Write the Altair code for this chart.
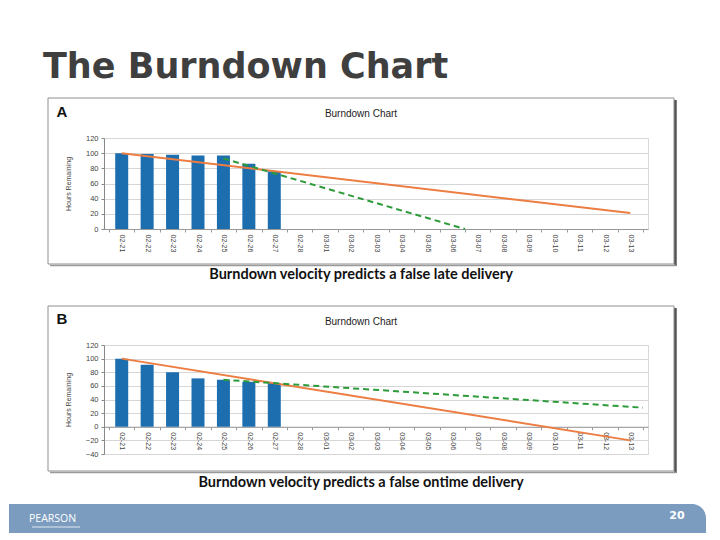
import altair as alt
import pandas as pd

# ---------------- data ----------------
dates = ["02-21", "02-22", "02-23", "02-24", "02-25", "02-26", "02-27",
         "02-28", "03-01", "03-02", "03-03", "03-04", "03-05", "03-06",
         "03-07", "03-08", "03-09", "03-10", "03-11", "03-12", "03-13"]

bar_days = [0, 1, 2, 3, 4, 5, 6]
a_hours = [100, 99, 98, 97, 97, 86, 76]
b_hours = [100, 91, 80, 71, 69, 66, 64]

a_ideal_days = [0, 20]
a_ideal_hours = [100, 21]
a_trend_days = [4, 13.5]
a_trend_hours = [93, 0]

b_ideal_days = [0, 20]
b_ideal_hours = [100, -20]
b_trend_days = [4, 20.5]
b_trend_hours = [69, 28]

slide_title = "The Burndown Chart"
chart_title = "Burndown  Chart"
caption_a = "Burndown velocity predicts a false late delivery"
caption_b = "Burndown velocity predicts a false ontime delivery"

# ---------------- styles ----------------
W = 544
HA = 91
HB = 109
BAND = W / len(dates)
BLUE = "#1c6eaf"
ORANGE = "#ec7d43"
GREEN = "#2e9b3a"
AXIS_FONT = "Liberation Sans"

one = pd.DataFrame({"k": [0]})

label_array = "[" + ",".join("'%s'" % d for d in dates) + "]"
label_expr = label_array + "[round(datum.value + 0.5)] || ''"
boundaries = [i - 0.5 for i in range(len(dates) + 1)]


def x_enc(offset):
    return alt.X(
        "day:Q",
        scale=alt.Scale(domain=[-0.5, len(dates) - 0.5], nice=False, zero=False),
        axis=alt.Axis(
            values=boundaries, labelExpr=label_expr, labelAngle=90,
            labelOffset=BAND / 2, labelFlush=False, labelOverlap=False,
            labelBound=False, labelFontSize=7, labelColor="#444",
            labelFont=AXIS_FONT, labelPadding=2, tickSize=3,
            tickColor="#999", domainColor="#999", grid=False, title=None,
            offset=offset,
        ),
    )


def y_enc(domain, values):
    return alt.Y(
        "hours:Q",
        scale=alt.Scale(domain=domain, nice=False, zero=False),
        axis=alt.Axis(
            values=values, labelFontSize=7.5, labelColor="#444",
            labelFont=AXIS_FONT, tickSize=3, tickColor="#888",
            domainColor="#888", gridColor="#d6d6d6", title="Hours Remaining",
            titleFontSize=7, titleFontWeight="normal", titleColor="#444",
            titleFont=AXIS_FONT, titlePadding=14, labelPadding=3,
        ),
    )


def text(t, x, y, size, color="#333", weight="normal", font=AXIS_FONT,
         align="center", baseline="middle"):
    return alt.Chart(one).mark_text(
        text=t, fontSize=size, color=color, fontWeight=weight, font=font,
        align=align, baseline=baseline,
    ).encode(x=alt.value(x), y=alt.value(y))


def frame(y1, y2):
    box = alt.Chart(one).mark_rect(
        fill="white", fillOpacity=0, stroke="#8f8f8f", strokeWidth=1
    ).encode(x=alt.value(-56), x2=alt.value(570), y=alt.value(y1), y2=alt.value(y2))
    shadow_r = alt.Chart(one).mark_rule(color="#555", strokeWidth=2.5).encode(
        x=alt.value(571.5), y=alt.value(y1 + 2), y2=alt.value(y2 + 2))
    shadow_b = alt.Chart(one).mark_rule(color="#9a9a9a", strokeWidth=1.5).encode(
        x=alt.value(-54), x2=alt.value(572), y=alt.value(y2 + 1.5))
    return [box, shadow_r, shadow_b]


def panel(hours, ideal_d, ideal_h, trend_d, trend_h, ydom, yvals, xoff):
    X = x_enc(xoff)
    Y = y_enc(ydom, yvals)
    bars = alt.Chart(pd.DataFrame({"day": bar_days, "hours": hours})).mark_bar(
        size=13, color=BLUE).encode(x=X, y=Y)
    ideal = alt.Chart(pd.DataFrame({"day": ideal_d, "hours": ideal_h})).mark_line(
        color=ORANGE, strokeWidth=2).encode(x=X, y=Y)
    trend = alt.Chart(pd.DataFrame({"day": trend_d, "hours": trend_h})).mark_line(
        color=GREEN, strokeWidth=2, strokeDash=[6, 4]).encode(x=X, y=Y)
    return bars, ideal, trend


# ---------------- panel A ----------------
anchor = alt.Chart(one).mark_rect(fill="white", opacity=0).encode(
    x=alt.value(-95), x2=alt.value(600), y=alt.value(-129), y2=alt.value(-100))

barsA, idealA, trendA = panel(a_hours, a_ideal_days, a_ideal_hours,
                              a_trend_days, a_trend_hours,
                              [0, 120], list(range(0, 121, 20)), 0)

chartA = alt.layer(
    anchor,
    *frame(-40, 126),
    barsA, idealA, trendA,
    text(slide_title, -61, -60, 35, color="#3f3f3f", weight="bold",
         font="DejaVu Sans", align="left", baseline="alphabetic"),
    text("A", -42, -26, 15, color="#111", weight="bold"),
    text(chart_title, 257, -24, 10, color="#222"),
    text(caption_a, 257, 137, 14.5, color="#111", weight="bold", font="Lato"),
).properties(width=W, height=HA)

# ---------------- panel B ----------------
zero_off = -(HB * 40 / 160)
barsB, idealB, trendB = panel(b_hours, b_ideal_days, b_ideal_hours,
                              b_trend_days, b_trend_hours,
                              [-40, 120], list(range(-40, 121, 20)), zero_off)

footer = alt.Chart(one).mark_rect(fill="#7b9cbf", cornerRadiusTopRight=14).encode(
    x=alt.value(-95), x2=alt.value(602), y=alt.value(159), y2=alt.value(188))
swoosh = alt.Chart(one).mark_rule(color="white", strokeWidth=1, opacity=0.8).encode(
    x=alt.value(-72), x2=alt.value(-24), y=alt.value(182))

chartB = alt.layer(
    *frame(-39, 126),
    barsB, idealB, trendB,
    text("B", -42, -26, 15, color="#111", weight="bold"),
    text(chart_title, 257, -23, 10, color="#222"),
    text(caption_b, 257, 138, 14.5, color="#111", weight="bold", font="Lato"),
    footer, swoosh,
    text("PEARSON", -75, 174, 10.5, color="white", font="Open Sans", align="left"),
    text("20", 573, 171, 11, color="white", weight="bold", font="DejaVu Sans"),
).properties(width=W, height=HB)

chart = alt.vconcat(chartA, chartB, spacing=116, bounds="flush").properties(
    padding=0
).configure_view(stroke="#d9d9d9").configure_axis(labelFont=AXIS_FONT)

chart.save("out.html", embed_options={"renderer": "svg", "actions": False})
